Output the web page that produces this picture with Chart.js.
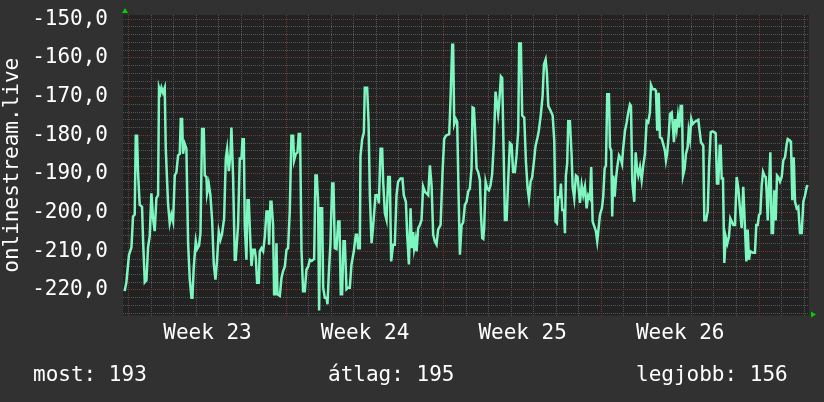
<!DOCTYPE html>
<html>
<head>
<meta charset="utf-8">
<title>onlinestream.live</title>
<script src="https://cdn.jsdelivr.net/npm/chart.js@4.4.1/dist/chart.umd.min.js"></script>
<style>
  html, body { margin: 0; padding: 0; background: #313131; }
  #keret { position: relative; width: 824px; height: 402px; }
  canvas { display: block; }
  .stat { position: absolute; top: 364px; color: #fff; white-space: pre;
          font: 21px/21px 'DejaVu Sans Mono', monospace; }
</style>
</head>
<body>
<div id="keret">
  <canvas id="grafikon" width="824" height="402"></canvas>
  <span class="stat" style="left:33px" id="stat0"></span>
  <span class="stat" style="left:328px" id="stat1"></span>
  <span class="stat" style="left:636px" id="stat2"></span>
</div>
<script>
// Adatok: órák a 23. hét hétfő 00:00-tól, értékek
const ORAK = [
  -4.3, -2.5, 0.3, 2.9, 4.6, 6.4, 7.5, 8.9, 9.9, 11.7,
  14.2, 15.3, 17.1, 18.9, 20.6, 22.4, 24.2, 25.9, 27.7, 29.5,
  31.3, 32.3, 33.8, 34.9, 36.6, 38.4, 39.5, 41.9, 43.7, 45.5,
  47.3, 49.1, 50.9, 52.6, 54.4, 55.5, 56.9, 57.9, 59.7, 61.5,
  63.3, 65.1, 66.9, 67.9, 69.3, 71.5, 72.9, 75, 76.5, 78.2,
  80, 81.1, 82.9, 83.5, 85.3, 87.1, 88.9, 90.7, 92.5, 94.2,
  96, 97.8, 99.5, 101.7, 103.5, 104.9, 106.7, 108.5, 109.5, 111.3,
  113.1, 114.1, 116.6, 118.4, 120.2, 121.3, 122.7, 123.7, 125.5, 126.6,
  128, 129.1, 130.9, 132.6, 134.4, 135.5, 136.9, 138.7, 139.7, 141.5,
  143.3, 145.1, 146.9, 148.6, 149.7, 151.1, 152.2, 153.9, 155, 156.5,
  157.5, 158.6, 161.1, 162.9, 164.6, 166.4, 168.2, 169.9, 171.7, 173.5,
  175.3, 176.3, 178.1, 179.9, 181.3, 182.7, 184.2, 185.9, 187.7, 189.5,
  191.3, 193.1, 194.9, 197.7, 199.1, 200.5, 201.9, 203, 204.5, 206.2,
  207.3, 209.1, 210.9, 211.9, 213.3, 215.1, 216.9, 218.3, 219.7, 221.5,
  223.3, 224.7, 226.1, 227.5, 229, 230.4, 232.2, 233.9, 235.7,
  237.5, 240, 242.1, 243.5, 244.6, 246.4, 247.1, 248.9, 250.7, 251.7,
  254.2, 255.7, 257.1, 258.9, 260.6, 263.1, 265.3, 266.7, 268.5, 270.2,
  271.3, 273.1, 274.9, 276.6, 278.4, 279.8, 281.9, 283.7, 285.5, 287.2,
  289.8, 291.9, 293.3, 295.5, 296.9, 298.7, 300.5, 301.9, 303.3, 304.3,
  305.8, 306.9, 308.6, 310.4, 312.2, 313.9, 315.7, 317.5, 319.3, 321.1,
  322.9, 324.6, 326.4, 328.2, 329.9, 332.5, 334.6, 336.3, 338.1, 341.7,
  343.1, 344.9, 345.9, 347, 348.8, 350.2, 351.7, 353.1, 354.9, 356.6, 358.4,
  360.2, 361.9, 363.7, 365.5, 366.6, 368, 369.1, 370.9, 372.6, 374.4,
  375.5, 376.9, 378, 379, 380.5, 382.2, 384, 385.8, 387.5, 389.3,
  391.1, 392.9, 393.9, 395, 396.8, 398.2, 399.7, 401.1, 402.9, 404.6,
  406.4, 408.2, 409.9, 411.7, 413.5, 415.3, 416.3, 418.1, 419.5, 421.7,
  423.5, 425.3, 426.7, 428.5, 430.2, 432, 433.8, 435.9, 437.3, 439.5,
  441.3, 442.7, 444.5, 445.9, 447.3, 449.1, 452, 453.7, 455.1, 456.5,
  457.9, 459.7, 460.8, 462.2, 464, 465.1, 466.1, 467.5, 468.6, 470.4,
  472.2, 473.3, 475, 476.8, 478.6, 481.1,
  482.9, 484.6, 486.4, 488.2, 489.9, 491.7, 493.1, 494.6, 496.3, 498.1,
  499.5, 501, 502.4, 504.5, 505.9, 507.4, 508.8, 510.2, 512, 513.1,
  514.5, 515.5, 516.6, 518.1, 519.5, 520.9, 522.7, 524.5, 525.9, 527.3,
  529.1, 530.9, 532.6, 534.4, 535.5, 536.9, 539, 540.5, 541.9, 543.3,
  545.1, 546.9, 548.6, 550.4, 552.2, 553.9, 555.7, 556.8, 558.6, 561.1,
  562.1, 563.5, 565, 566.4, 568.2, 569.9, 571.7, 572.8, 574.2, 575.7,
  577.1, 578.9, 580, 581.3, 582.7, 584.2, 585.6, 587, 588.5, 589.9,
  591, 592.7, 594.1, 595.9, 597, 598.4, 599.8, 601.3,
  603.7, 607.3, 610.1, 612.6, 613.7, 615.5, 617.3, 618.7, 620.5, 622.2,
  624.3, 625.8, 627.2, 628.6, 630.1, 631.1, 632.2, 633.6, 635, 636.5,
  638.2, 640, 641.4, 642.9, 644.6, 646.4, 648.2, 649.9, 651.7, 653.5,
  655.2, 657.1, 658.5, 659.9, 661.3, 662.7, 664.2, 665.9, 667.7, 669.1,
  670.6, 672, 673.4, 674.9, 676.3, 677.7, 679.2, 680.2, 681.3, 682.7,
  684.1, 685.5, 686.9, 688.3, 689.8, 691.2, 692.6, 694.4, 696.2, 697.9,
  699.7, 701.5, 702.6, 705.1, 706.1, 707.5, 709, 710.4, 712.2, 713.9,
  715.7, 717.5, 719.3, 721.1, 722.9, 724
];

const ERTEKEK = [
  -220.3, -218, -210.9, -209, -201, -200.5, -180.1, -180.1, -189.5, -198,
  -198.5, -207, -218, -217.5, -209, -206, -195, -201.5, -204.8, -196.3,
  -195.5, -167.7, -169, -167.7, -169, -167.7, -183.5, -197.6, -202.7, -200.5,
  -202.3, -190.4, -189.5, -185.2, -184.8, -175.8, -175.8, -184.8, -182.2, -183.5,
  -207.9, -217.3, -222, -222, -214.3, -207.4, -209.4, -208.5, -205.3, -178.4,
  -178.4, -190.4, -190.8, -195, -192.5, -195.5, -201.9, -213.4, -217.3, -212.2,
  -204.9, -207, -205.5, -201.5, -186, -183.5, -189.3, -184.8, -178, -191,
  -212.2, -212.2, -203.2, -186, -186, -181, -181, -203.2, -212.2, -196.8,
  -196.8, -204, -213.8, -209.6, -209.6, -211.7, -218.1, -218.1, -210, -209.2,
  -210, -206.2, -199.7, -199.7, -208.3, -197.2, -197.2, -203.2, -221.1, -221.1,
  -207.9, -221.1, -221.5, -216.8, -215.1, -214, -209.6, -209.2, -199.7, -180.1,
  -180.1, -186.5, -184.8, -184.5, -179.7, -179.7, -209.6, -220.3, -220.3, -214.7,
  -214, -212.2, -212.5, -212, -190.4, -190.4, -197.2, -225.3, -198.9, -198.9,
  -219.4, -222, -222, -223.7, -215.9, -207.9, -192.5, -192.5, -209.2, -209.4,
  -202.3, -202.3, -221.1, -221.1, -207.4, -207.4, -219.8, -219.4, -219.4,
  -213.4, -210, -205.7, -205.7, -209.2, -209.2, -185.4, -181, -179.3, -167.7,
  -167.7, -176.7, -195.5, -207.9, -203.5, -195.5, -195.5, -197.6, -183.5, -183.5,
  -192, -200.2, -201.9, -190.8, -190.8, -212.6, -208.3, -208.3, -195.5, -192,
  -191.2, -191.2, -195.5, -197.2, -205.7, -213.4, -198.9, -209.2, -205, -209.2,
  -207, -210, -204, -203.2, -201.9, -193.3, -194.6, -195, -195.5, -187.8,
  -193, -205.7, -207.5, -208.3, -204.4, -203.2, -189.5, -181, -180.1, -179.7,
  -170.7, -156.6, -156.6, -177.1, -175.8, -176.5, -195.5, -210.9, -203.2, -202.5, -198,
  -197.2, -194.6, -193.8, -188.6, -172.8, -173, -177.9, -188.6, -189.5, -191.6,
  -200.2, -206.6, -206.8, -203.8, -192, -193.8, -194.2, -192.9, -190, -182,
  -168.7, -172.4, -174.5, -171.6, -164.8, -165.2, -184, -201.9, -201.9, -191.6,
  -182, -182.4, -189.5, -189.5, -185.2, -178.7, -156.3, -156.3, -174.9, -175.4,
  -186.9, -193.7, -196.3, -192, -190.8, -186.9, -182.7, -180.5, -178.7, -174.4,
  -169.7, -161.7, -160.4, -163.9, -172.4, -173.3, -174.9, -181.4, -202.3, -202.7,
  -196, -196, -192.5, -199.3, -199.3, -205.3, -190.4, -187.3, -176.4, -176.4,
  -185.2, -193.3, -196.3, -190.4, -190.8, -197.5,
  -192.9, -195.5, -193.3, -198.9, -195.5, -196.3, -188.2, -202.3, -203.5, -204.8,
  -207.4, -204, -200.6, -198.9, -195.9, -188.6, -187.8, -169.4, -169.4, -183.1,
  -184, -201, -190.4, -195.9, -191.3, -188.2, -185.2, -186, -187.3, -183.1,
  -178.8, -176.7, -174.1, -172, -172.4, -192, -197.2, -184.4, -188.6, -190.4,
  -188.2, -191.6, -187.8, -184.8, -176.3, -176.7, -174.1, -167, -168.1, -168.1,
  -168.5, -178.8, -169, -180.5, -180.8, -182.3, -184, -186.5, -184.4, -180.1,
  -174.5, -174.1, -177.1, -181.8, -175.8, -178.4, -175, -178, -172.4, -172.4,
  -190.4, -188.6, -184.8, -183.1, -178.8, -181, -175.8, -177.1,
  -176.5, -176, -181.8, -182.7, -202, -202, -199.7, -188.6, -179.2, -179,
  -179.2, -179.5, -192.5, -192.5, -182.7, -182.7, -191.2, -191.2, -213, -206.2,
  -208, -206.2, -201.5, -202.3, -203.2, -203.2, -190.8, -193.7, -198.9, -204,
  -193.3, -204.4, -212.6, -204.4, -212.2, -210, -210.2, -210.4, -210.4, -203.2,
  -203.2, -200.6, -200.2, -192.9, -189.5, -190.4, -190.8, -195, -202, -192.9,
  -184.4, -205.3, -205.3, -194.2, -202, -190.4, -190.8, -192, -190.8, -186.5,
  -185.7, -182.3, -181, -181.4, -182, -196.8, -185.7, -197.2, -198.9, -198.5,
  -205.3, -205.3, -197.2, -195.5, -193.3, -192.9
];

// Tengelyek
const HET_KOZEPEK = [84, 252, 420, 588];
const HET_CIMKEK = ['Week 23', 'Week 24', 'Week 25', 'Week 26'];
const X_MIN = -6.1, X_MAX = 725.3;
const Y_MIN = -226.6, Y_MAX = -148.9;
const Y_FO_LEPES = 10, Y_AL_LEPES = 2;

// Összesítő sor
const STAT_CIMKEK = ['most:', 'átlag:', 'legjobb:'];
const STAT_ERTEKEK = [193, 195, 156];

const BETU = "'DejaVu Sans Mono', monospace";
const RACS_AL = '#555555';
const RACS_FO = '#763636';

STAT_CIMKEK.forEach((c, i) => {
  document.getElementById('stat' + i).textContent = c + ' ' + STAT_ERTEKEK[i];
});

// ─── Pluginok ────────────────────────────────────────────────────────────────

const hatter = {
  id: 'hatter',
  beforeDraw(chart) {
    const { ctx, chartArea: a } = chart;
    ctx.save();
    ctx.fillStyle = '#313131';
    ctx.fillRect(0, 0, chart.width, chart.height);
    ctx.fillStyle = '#222222';
    ctx.fillRect(a.left, a.top, a.right - a.left, a.bottom - a.top);
    ctx.restore();
  }
};

const nyilak = {
  id: 'nyilak',
  afterDraw(chart) {
    const { ctx, chartArea: a } = chart;
    ctx.save();
    ctx.fillStyle = '#00d000';
    ctx.beginPath();
    ctx.moveTo(a.left + 2, a.top - 7);
    ctx.lineTo(a.left - 1, a.top - 2);
    ctx.lineTo(a.left + 5, a.top - 2);
    ctx.fill();
    ctx.beginPath();
    ctx.moveTo(a.right + 7, a.bottom - 1);
    ctx.lineTo(a.right + 2, a.bottom - 4);
    ctx.lineTo(a.right + 2, a.bottom + 2);
    ctx.fill();
    ctx.restore();
  }
};

// ─── Grafikon ────────────────────────────────────────────────────────────────

const ctx = document.getElementById('grafikon').getContext('2d');
new Chart(ctx, {
  type: 'line',
  data: {
    datasets: [{
      label: 'onlinestream.live',
      data: ORAK.map((h, i) => ({ x: h, y: ERTEKEK[i] })),
      borderColor: '#7ef6c0',
      borderWidth: 2.5,
      pointRadius: 0,
      tension: 0,
      fill: false,
    }]
  },
  options: {
    responsive: false,
    animation: false,
    layout: { padding: { top: 15, right: 15, bottom: 46.5, left: 0 } },
    plugins: { legend: { display: false }, tooltip: { enabled: false } },
    scales: {
      x: {
        type: 'linear',
        min: X_MIN,
        max: X_MAX,
        afterBuildTicks: s => {
          const t = [];
          for (let v = 0; v <= 720; v += 12) t.push({ value: v });
          s.ticks = t;
        },
        afterFit: s => { s.height = 40; s.paddingLeft = 0; s.paddingRight = 0; },
        grid: {
          drawTicks: false,
          lineWidth: 1,
          color: c => c.tick.value % 168 === 0 ? RACS_FO : (c.tick.value % 24 === 0 ? RACS_AL : 'transparent'),
        },
        border: { display: false, dash: [1, 1] },
        ticks: {
          autoSkip: false,
          maxRotation: 0,
          padding: 5,
          color: '#ffffff',
          font: { family: BETU, size: 21 },
          callback: v => {
            const i = HET_KOZEPEK.indexOf(v);
            return i >= 0 ? HET_CIMKEK[i] : '';
          }
        }
      },
      y: {
        min: Y_MIN,
        max: Y_MAX,
        afterBuildTicks: s => {
          const t = [];
          for (let v = -226; v <= -150; v += Y_AL_LEPES) t.push({ value: v });
          s.ticks = t;
        },
        afterFit: s => { s.width = 123; s.paddingTop = 0; s.paddingBottom = 0; },
        grid: {
          drawTicks: false,
          lineWidth: 1,
          color: c => c.tick.value % Y_FO_LEPES === 0 ? RACS_FO : RACS_AL,
        },
        border: { display: false, dash: [1, 1] },
        ticks: {
          autoSkip: false,
          padding: 15,
          color: '#ffffff',
          font: { family: BETU, size: 21 },
          callback: v => v % Y_FO_LEPES === 0 ? v.toFixed(1).replace('.', ',') : ''
        },
        title: {
          display: true,
          text: 'onlinestream.live',
          color: '#ffffff',
          font: { family: BETU, size: 21 },
          padding: { top: 0, bottom: 0 }
        }
      }
    }
  },
  plugins: [hatter, nyilak]
});
</script>
</body>
</html>
